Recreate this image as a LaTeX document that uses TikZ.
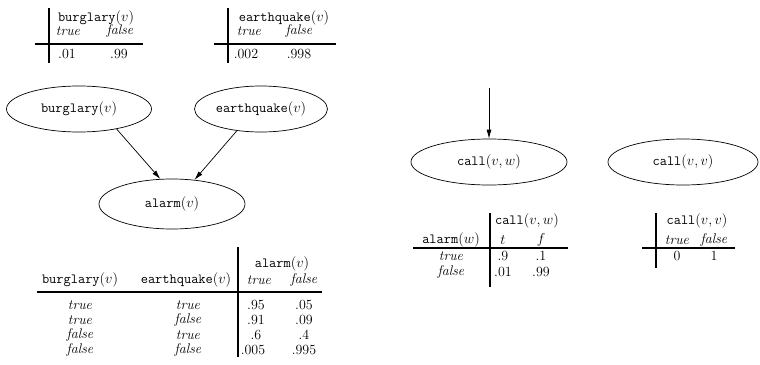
\documentclass[tikz,border=0pt]{standalone}
\usetikzlibrary{arrows.meta,shapes.geometric}
\begin{document}
\begin{tikzpicture}[x=1pt,y=-1pt,
  every node/.style={font=\fontsize{14}{16}\selectfont, inner sep=0pt},
  ell/.style={draw, ellipse, line width=0.7pt, minimum width=#1, minimum height=46pt},
  edge/.style={-{Latex[length=9pt,width=5pt]}, line width=0.7pt},
  bar/.style={line width=1.4pt},
  rule/.style={line width=1.2pt}]
\useasboundingbox (0,0) rectangle (760,364);
\newcommand{\tn}[1]{\texttt{#1}}
% ---- prior table burglary
\draw[bar] (49,8) -- (49,63);
\draw[rule] (35,44) -- (143,44);
\node (bh) at (96,18) {\tn{burglary}$(v)$};
\node (bt) at (68,31) {\textit{true}};
\node (bf) at (120,31) {\textit{false}};
\node (bv1) at (67,54) {.01};
\node (bv2) at (119,54) {.99};
% ---- prior table earthquake
\draw[bar] (228,8) -- (228,63);
\draw[rule] (214,44) -- (336,44);
\node (eh) at (284,18) {\tn{earthquake}$(v)$};
\node (et) at (249,31) {\textit{true}};
\node (ef) at (299,31) {\textit{false}};
\node (ev1) at (246,54) {.002};
\node (ev2) at (299,54) {.998};
% ---- network
\node[ell=145pt] (b) at (79,109) {\tn{burglary}$(v)$};
\node[ell=133pt] (e) at (261,109) {\tn{earthquake}$(v)$};
\node[ell=146pt, minimum height=50pt] (a) at (172,204) {\tn{alarm}$(v)$};
\draw[edge] (b.-28) -- (a.115);
\draw[edge] (e.-138) -- (a.47);
\node[ell=156pt] (cw) at (489,162) {\tn{call}$(v,w)$};
\node[ell=150pt] (cv) at (683,162) {\tn{call}$(v,v)$};
\coordinate (top) at (489,88);
\draw[edge] (top) -- (cw);
% ---- alarm table
\draw[bar] (238,247) -- (238,357);
\draw[rule] (37,292) -- (322,292);
\node (ah) at (282,264) {\tn{alarm}$(v)$};
\node (ab) at (80,280) {\tn{burglary}$(v)$};
\node (ae) at (186,280) {\tn{earthquake}$(v)$};
\node (at) at (259,280) {\textit{true}};
\node (af) at (304,280) {\textit{false}};
\node (r1a) at (80,305) {\textit{true}};
\node (r1b) at (188,305) {\textit{true}};
\node (r1c) at (256,305) {.95};
\node (r1d) at (304,305) {.05};
\node (r2a) at (80,320) {\textit{true}};
\node (r2b) at (188,320) {\textit{false}};
\node (r2c) at (256,320) {.91};
\node (r2d) at (304,320) {.09};
\node (r3a) at (80,335) {\textit{false}};
\node (r3b) at (188,335) {\textit{true}};
\node (r3c) at (256,335) {.6};
\node (r3d) at (304,335) {.4};
\node (r4a) at (80,350) {\textit{false}};
\node (r4b) at (188,350) {\textit{false}};
\node (r4c) at (253,350) {.005};
\node (r4d) at (304,350) {.995};
% ---- call(v,w) table
\draw[bar] (490,213) -- (490,287);
\draw[rule] (413,248) -- (568,248);
\node (ch) at (527,221) {\tn{call}$(v,w)$};
\node (ca) at (451,240) {\tn{alarm}$(w)$};
\node (ct) at (503,240) {$t$};
\node (cf) at (541,240) {$f$};
\node (c1a) at (451,256) {\textit{true}};
\node (c1b) at (503,256) {.9};
\node (c1c) at (541,256) {.1};
\node (c2a) at (451,272) {\textit{false}};
\node (c2b) at (503,272) {.01};
\node (c2c) at (541,272) {.99};
% ---- call(v,v) table
\draw[bar] (656,213) -- (656,268);
\draw[rule] (642,248) -- (735,248);
\node (vh) at (697,221) {\tn{call}$(v,v)$};
\node (vt) at (677,240) {\textit{true}};
\node (vf) at (714,240) {\textit{false}};
\node (v1) at (677,256) {0};
\node (v2) at (714,256) {1};
\end{tikzpicture}
\end{document}
